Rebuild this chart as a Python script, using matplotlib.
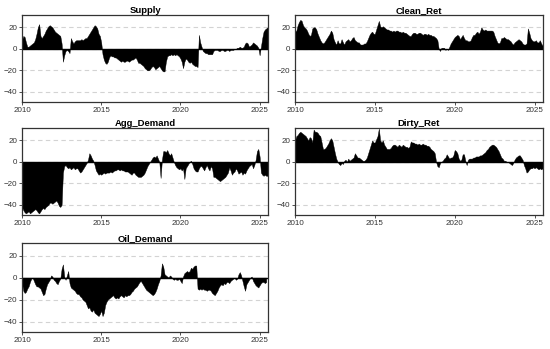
import matplotlib
matplotlib.use("Agg")
import matplotlib.pyplot as plt
import numpy as np

plt.rcParams['font.family'] = ['Liberation Sans', 'DejaVu Sans']

start_year = 2010
titles = ["Supply", "Clean_Ret", "Agg_Demand", "Dirty_Ret", "Oil_Demand"]

supply = [8, 12, 11, 6, 2, 2, 3, 4, 5, 6, 9, 14,
          20, 23, 12, 10, 12, 14, 17, 19, 21, 22, 21, 20,
          18, 16, 15, 14, 13, 12, 5, -12, -6, -2, -1, -2,
          -4, 10, 7, 5, 7, 8, 8, 8, 8, 9, 8, 9,
          10, 10, 12, 14, 16, 18, 20, 22, 21, 19, 14, 12,
          6, -5, -10, -13, -14, -12, -8, -6, -7, -7, -8, -8,
          -9, -10, -11, -12, -11, -12, -12, -11, -11, -12, -11, -10,
          -10, -9, -8, -10, -13, -13, -14, -15, -16, -18, -19, -20,
          -20, -19, -17, -16, -17, -19, -18, -17, -16, -18, -20, -21,
          -21, -12, -7, -6, -6, -5, -6, -5, -6, -5, -6, -7,
          -9, -12, -18, -12, -9, -10, -12, -13, -12, -14, -15, -16,
          -16, -17, 13, 6, 2, -2, -3, -4, -4, -5, -5, -5,
          -5, -2, -1, -1, -1, -2, -2, -1, -1, -2, -2, -1,
          -1, -2, -1, -1, -1, 0, 0, 1, 1, 2, 1, 1,
          2, 5, 6, 5, 2, 3, 4, 6, 5, 4, 3, 1,
          -6, 2, 10, 16, 18, 19, 20]

clean_ret = [16, 17, 22, 25, 27, 26, 22, 20, 19, 17, 14, 12,
             13, 19, 20, 20, 18, 14, 11, 8, 6, 5, 6, 8,
             10, 12, 14, 17, 15, 9, 6, 4, 8, 5, 5, 9,
             6, 4, 7, 8, 9, 7, 8, 10, 11, 8, 7, 6,
             6, 4, 4, 4, 5, 5, 7, 10, 13, 15, 16, 14,
             14, 18, 22, 26, 21, 20, 21, 20, 19, 18, 18, 17,
             17, 16, 17, 16, 17, 17, 16, 16, 15, 16, 15, 15,
             14, 13, 12, 12, 14, 15, 15, 14, 14, 15, 15, 14,
             13, 14, 14, 13, 14, 13, 13, 12, 12, 11, 10, 8,
             0, -2, 1, 1, 1, -1, 0, -1, 2, 5, 7, 9,
             11, 12, 13, 12, 9, 11, 13, 10, 8, 8, 7, 7,
             8, 11, 13, 13, 15, 16, 14, 16, 20, 18, 17, 18,
             17, 17, 17, 17, 17, 16, 12, 9, 6, 5, 6, 10,
             10, 11, 10, 9, 9, 8, 7, 5, 4, 6, 7, 8,
             9, 8, 7, 5, 4, 4, 5, 19, 15, 10, 8, 7,
             7, 8, 6, 6, 8, 5, 3]

agg_demand = [-42, -45, -47, -48, -47, -46, -48, -47, -46, -45, -44, -45,
              -47, -48, -46, -44, -43, -44, -42, -41, -40, -38, -38, -39,
              -38, -37, -36, -38, -41, -42, -40, -10, -4, -3, -5, -6,
              -5, -7, -6, -5, -7, -6, -6, -8, -10, -9, -7, -5,
              -3, -1, 2, 8, 6, 3, 1, -3, -8, -10, -12, -11,
              -12, -11, -10, -11, -10, -10, -10, -9, -10, -9, -8, -8,
              -7, -7, -8, -7, -8, -8, -9, -9, -9, -10, -11, -12,
              -10, -10, -12, -13, -14, -14, -14, -13, -12, -10, -7, -4,
              -2, 0, 2, 4, 5, 4, 6, 3, 0, -15, 2, 10,
              10, 9, 11, 8, 6, 8, 4, 0, -3, -5, -6, -7,
              -6, -8, -6, -16, -6, -4, -2, 0, 1, -2, -6, -8,
              -9, -9, -6, -4, -4, -6, -8, -5, -3, -6, -8, -4,
              -6, -14, -14, -15, -16, -17, -18, -17, -16, -15, -14, -12,
              -10, -5, -8, -12, -10, -9, -6, -8, -11, -10, -9, -12,
              -10, -11, -8, -6, -4, -3, -2, -6, -3, 2, 10, 12,
              5, -10, -12, -13, -12, -13, -13]

dirty_ret = [20, 24, 25, 27, 28, 27, 26, 25, 24, 22, 20, 23,
             22, 18, 30, 28, 28, 27, 25, 24, 18, 12, 12, 13,
             15, 17, 20, 22, 20, 14, 8, 3, 0, -2, -3, -1,
             -2, 1, 2, 0, 3, 1, 2, 3, 4, 8, 6, 4,
             4, 3, 2, 1, 1, 2, 4, 8, 12, 16, 20, 18,
             18, 21, 24, 31, 20, 18, 20, 16, 14, 12, 12, 12,
             13, 15, 16, 16, 15, 14, 16, 15, 14, 16, 15, 14,
             14, 13, 14, 19, 18, 18, 17, 17, 16, 17, 16, 16,
             17, 16, 16, 15, 15, 14, 12, 11, 10, 8, 0, -4,
             -5, -1, 0, 1, 3, 4, 7, 5, 3, 4, 4, 6,
             11, 10, 8, 3, 1, 2, 7, 7, 1, -3, 2, 3,
             3, 3, 4, 4, 5, 5, 5, 6, 6, 7, 8, 9,
             11, 12, 14, 15, 16, 16, 15, 14, 12, 10, 7, 4,
             3, 1, 1, 0, 0, -1, -2, -3, -1, 2, 4, 5,
             6, 6, 4, 2, -3, -6, -10, -9, -7, -6, -6, -5,
             -6, -5, -6, -7, -6, -7, -6]

oil_demand = [-5, -12, -14, -13, -10, -8, -4, -1, 0, -3, -6, -8,
              -8, -9, -10, -13, -16, -15, -10, -6, -4, -2, 2, 1,
              -2, -3, -5, -6, -3, -1, 8, 12, 1, -2, 2, 6,
              -5, -9, -10, -11, -12, -14, -15, -15, -17, -18, -20, -21,
              -22, -25, -28, -27, -30, -31, -29, -32, -33, -34, -35, -33,
              -30, -35, -32, -25, -22, -20, -19, -18, -17, -16, -18, -19,
              -18, -19, -17, -16, -17, -18, -16, -17, -16, -16, -15, -13,
              -12, -10, -9, -8, -6, -4, -3, -5, -7, -9, -11, -12,
              -13, -14, -15, -16, -15, -13, -10, -6, -3, 2, 13, 10,
              3, 2, 1, 0, 2, 1, -1, -2, -1, -2, -2, -1,
              -3, -5, 1, 4, 5, 6, 5, 6, 9, 8, 10, 11,
              11, -10, -11, -10, -11, -10, -11, -11, -12, -11, -11, -12,
              -14, -15, -16, -14, -12, -9, -7, -6, -7, -5, -6, -4,
              -4, -5, -3, -2, -1, 0, -2, -1, 3, 5, 2, -3,
              -8, -12, -6, -4, -2, 0, 1, -3, -5, -7, -8, -9,
              -7, -5, -4, -4, -5, -4]

series = [supply, clean_ret, agg_demand, dirty_ret, oil_demand]

W, H = 550, 349
fig = plt.figure(figsize=(5.5, 3.49), dpi=100)

# axes boxes in pixels: (left, top, right, bottom)
boxes = [(22, 15, 268, 102), (295, 15, 543, 102),
         (22, 128, 268, 215), (295, 128, 543, 215),
         (22, 243, 268, 332)]

for title, vals, (l, t, r, b) in zip(titles, series, boxes):
    ax = fig.add_axes([l / W, 1 - b / H, (r - l) / W, (b - t) / H])
    y = np.array(vals, dtype=float)
    x = start_year + np.arange(len(y)) / 12.0
    ax.fill_between(x, 0, y, color='black', linewidth=0.3, edgecolor='black')
    ax.axhline(0, color='black', linewidth=1.0)
    ax.set_xlim(2010, 2025.53)
    ax.set_ylim(-49.5, 31.5)
    ax.set_yticks([-40, -20, 0, 20])
    ax.set_xticks([2010, 2015, 2020, 2025])
    ax.grid(axis='y', linestyle=(0, (4, 3)), color='#d3d3d3', linewidth=0.8)
    ax.set_axisbelow(True)
    for s in ax.spines.values():
        s.set_color('#333333')
        s.set_linewidth(0.9)
    ax.tick_params(labelsize=5.8, colors='#333333', length=2, width=0.6, pad=1.5)
    ax.set_title(title, fontsize=6.8, fontweight='bold', pad=1.5)

fig.savefig("out.png", dpi=100)
